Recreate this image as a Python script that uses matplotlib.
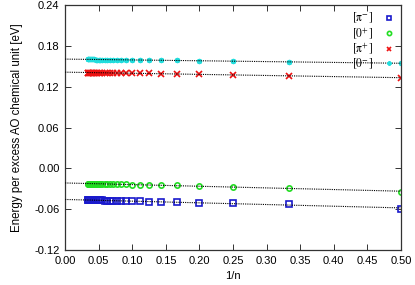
import matplotlib.pyplot as plt
import numpy as np

# chain length n (x axis shows 1/n)
n_values = [2, 3, 4, 5, 6, 7, 8, 9, 10, 11, 12, 13, 14, 15, 16,
            17, 18, 19, 20, 21, 22, 23, 24, 25, 26, 27, 28, 29, 30]

pi_minus = [-0.0595, -0.0528, -0.0512, -0.0503, -0.0497, -0.0492, -0.0488, -0.0485,
            -0.0483, -0.0481, -0.0479, -0.0477, -0.0476, -0.0475, -0.0474, -0.0473,
            -0.0472, -0.0471, -0.0471, -0.0470, -0.0470, -0.0469, -0.0469, -0.0468,
            -0.0468, -0.0468, -0.0467, -0.0467, -0.0467]
zero_plus = [-0.0350, -0.0285, -0.0268, -0.0258, -0.0252, -0.0247, -0.0244, -0.0241,
             -0.0239, -0.0237, -0.0235, -0.0234, -0.0233, -0.0232, -0.0231, -0.0230,
             -0.0229, -0.0229, -0.0228, -0.0228, -0.0227, -0.0227, -0.0226, -0.0226,
             -0.0226, -0.0225, -0.0225, -0.0225, -0.0224]
pi_plus = [0.1325, 0.1365, 0.1378, 0.1385, 0.1390, 0.1393, 0.1396, 0.1398,
           0.1399, 0.1400, 0.1401, 0.1402, 0.1403, 0.1403, 0.1404, 0.1404,
           0.1405, 0.1405, 0.1405, 0.1406, 0.1406, 0.1406, 0.1406, 0.1407,
           0.1407, 0.1407, 0.1407, 0.1407, 0.1408]
zero_minus = [0.1545, 0.1565, 0.1575, 0.1582, 0.1587, 0.1590, 0.1592, 0.1594,
              0.1595, 0.1596, 0.1597, 0.1597, 0.1598, 0.1598, 0.1599, 0.1599,
              0.1599, 0.1600, 0.1600, 0.1600, 0.1600, 0.1601, 0.1601, 0.1601,
              0.1601, 0.1601, 0.1602, 0.1602, 0.1602]

x_ticks = [0.00, 0.05, 0.10, 0.15, 0.20, 0.25, 0.30, 0.35, 0.40, 0.45, 0.50]
y_ticks = [-0.12, -0.06, 0.00, 0.06, 0.12, 0.18, 0.24]

plt.rcParams['font.family'] = ['Liberation Sans', 'DejaVu Sans']
plt.rcParams['mathtext.fontset'] = 'stix'

fig = plt.figure(figsize=(4.15, 2.85), dpi=100)
ax = fig.add_axes([0.157, 0.123, 0.809, 0.859])

x = 1.0 / np.array(n_values)
xfit = np.array([0.0, 0.5])

series = [
    (pi_minus, r'$[\mathrm{\pi}^{-}]$', 's', '#1a1acc', dict(markerfacecolor='none', markeredgewidth=1.2)),
    (zero_plus, r'$[0^{+}]$', 'o', '#22dd22', dict(markerfacecolor='none', markeredgewidth=1.2)),
    (pi_plus, r'$[\mathrm{\pi}^{+}]$', 'x', '#ee1111', dict(markeredgewidth=1.2)),
    (zero_minus, r'$[0^{-}]$', (8, 2, 0), '#22dddd', dict(markeredgewidth=1.0)),
]

for y, label, marker, color, kw in series:
    coef = np.polyfit(x, y, 1)
    ax.plot(xfit, np.polyval(coef, xfit), color='black', lw=0.8, ls=(0, (1, 1)), zorder=3)
    ax.plot(x, y, ls='none', marker=marker, color=color, markersize=3.8,
            label=label, zorder=2, **kw)

ax.set_xlim(0, 0.5)
ax.set_ylim(-0.12, 0.24)
ax.set_xticks(x_ticks)
ax.set_yticks(y_ticks)
ax.set_xticklabels(['%.2f' % v for v in x_ticks])
ax.set_yticklabels(['%.2f' % v for v in y_ticks])
ax.tick_params(direction='in', top=True, right=True, length=4, width=0.7,
               labelsize=8, pad=4, colors='#333333', labelcolor='black')
for s in ax.spines.values():
    s.set_linewidth(0.9)
    s.set_color('#333333')

ax.set_xlabel('1/n', fontsize=8, labelpad=4)
ax.set_ylabel('Energy per excess AO chemical unit [eV]', fontsize=8.3, labelpad=8)

ax.legend(loc='upper right', frameon=False, markerfirst=False, fontsize=8.5,
          markerscale=0.8, handlelength=1.0, handletextpad=0.9, labelspacing=0.05,
          borderaxespad=0.2, borderpad=0.3)

fig.savefig('out.png', dpi=100)
